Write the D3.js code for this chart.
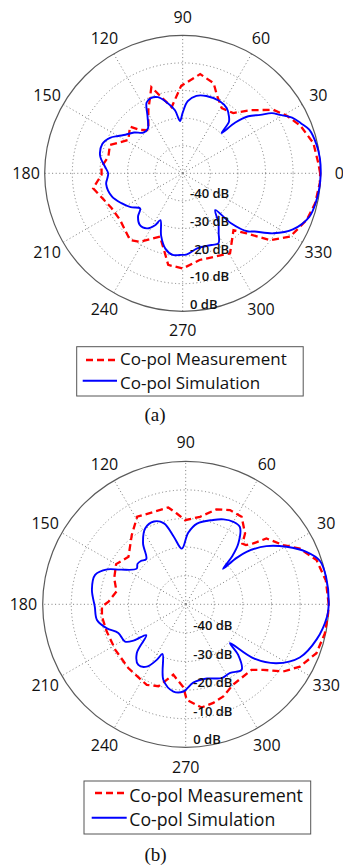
<!doctype html>
<html lang="en">
<head>
<meta charset="utf-8">
<title>Co-pol radiation patterns</title>
<script src="https://cdnjs.cloudflare.com/ajax/libs/d3/7.8.5/d3.min.js"></script>
<style>
  body { margin: 0; background: #fff; }
  svg { display: block; }
  .ang { font: 16px "Open Sans", sans-serif; fill: #111; }
  .ring { font: 600 13px "Open Sans", sans-serif; fill: #111; }
  .leg { font-family: "Open Sans", sans-serif; fill: #111; }
  .cap { font-family: "Liberation Serif", "Times New Roman", serif; fill: #111; }
</style>
</head>
<body>
<div id="chart"></div>
<script>
// tick labels
var angleTicks = [0, 30, 60, 90, 120, 150, 180, 210, 240, 270, 300, 330];
var ringValues = [-40, -30, -20, -10, 0];
var ringLabels = ["-40 dB", "-30 dB", "-20 dB", "-10 dB", "0 dB"];
var legendLabels = ["Co-pol Measurement", "Co-pol Simulation"];

// (a) simulation: angle (deg), gain (dB)
var simA_angle = [0, 6, 12, 19, 23, 27, 31, 34, 37, 41, 44, 46, 48, 51, 56, 63, 73, 80, 86, 90,
  93, 97, 103, 108, 113, 117, 122, 128, 134, 140, 146, 150, 154, 160, 168, 175, 180, 184, 188,
  198, 206, 213, 219.5, 224, 230, 237, 242, 244.5, 251, 257, 263, 268, 273, 281, 292, 297, 301,
  306, 311.5, 314, 318, 321, 326.5, 333, 341, 348, 354];
var simA_db = [0, 0, -0.4, -1.5, -3.5, -5.5, -8.9, -11, -14.8, -18.5, -23.5, -29.7, -25, -23.4,
  -21.5, -20.6, -20.7, -21.5, -23.8, -28, -31, -27, -23.5, -21, -20.4, -21.2, -26, -29.5, -29.5,
  -27, -25, -23, -20.7, -19, -19.4, -21.7, -23, -22.6, -22, -23, -25.3, -27.5, -30, -27.5, -25.7,
  -26.2, -28.7, -31.2, -26, -22, -20.2, -20.4, -20.6, -22.3, -22, -21.5, -24.7, -28, -32.2, -25,
  -18.6, -16.5, -10.6, -5.2, -1.5, -0.6, -0.2];

// (a) measurement
var measA_angle = [0, 4, 13, 22, 29, 35, 43, 50, 59, 66.5, 71, 80, 91, 99.5, 110, 118.5, 128.5,
  134.5, 138.5, 148.5, 158.7, 167.4, 175.3, 181, 189.5, 206, 216.7, 231.7, 238, 250.3, 257.5,
  261, 270, 281, 300.6, 311.8, 316.8, 322.6, 329.5, 339.4, 347.2, 356];
var measA_db = [-0.2, -0.7, -1.4, -4, -6.9, -9.9, -16.5, -21.5, -22.5, -19, -15.5, -13.5, -18.3,
  -25.7, -16.8, -23.9, -30, -28, -24.5, -26.9, -21.7, -22.4, -20.5, -20.6, -17.1, -21.3, -21.7,
  -19.2, -20.7, -25.6, -20.3, -16.4, -15.5, -18, -16.3, -22.4, -18.2, -10.1, -4.8, -2, -0.8, -0.2];

// (b) simulation
var simB_angle = [0, 11, 18, 23.5, 29.7, 35.8, 40.8, 42.5, 43.5, 46, 49, 55, 60, 66, 72, 82, 88,
  94, 100, 105, 111, 118, 125, 131, 136, 140, 144, 152, 156, 162, 171, 181.5, 190, 197, 203,
  211.6, 215, 218, 225, 232, 238, 242.5, 245, 253.6, 262, 268.5, 275.5, 286, 296, 303, 310.5,
  316, 318.7, 321.4, 327, 335, 345, 355];
var simB_db = [0, 0, -0.7, -4, -9.4, -15.2, -21.9, -26.5, -32, -26.5, -22, -17, -16.7, -17.5, -19,
  -21.5, -25, -30.5, -26, -20.7, -19, -19.9, -24, -29, -28.2, -28, -28.8, -24.2, -20, -16.7,
  -16.8, -18.2, -18.5, -21.2, -24.4, -25.1, -28, -32.5, -25.8, -23.1, -24.3, -28.1, -30.8, -22.4,
  -19.2, -19.5, -22.5, -23, -21.3, -21.4, -19.9, -24.5, -29.4, -19.8, -12.2, -6, -2.6, -0.4];

// (b) measurement
var measB_angle = [0, 9.7, 18.7, 26, 31.3, 39.2, 42, 44.5, 47, 50, 57.4, 64.8, 72, 80.7, 90.5,
  95.6, 100.2, 109.5, 119, 127.9, 140.3, 150, 160, 169.5, 178, 181.6, 188.4, 199, 212.9, 228,
  244.2, 251.6, 260, 268.4, 270.6, 278.7, 285.6, 292.2, 300.6, 315.1, 319.8, 325.4, 331.4,
  339.5, 348.2, 356.4];
var measB_db = [0, -0.3, -1.7, -5.6, -10.1, -13.6, -18.2, -20.5, -21, -17.7, -13.7, -13.6, -15.1,
  -19, -20.6, -18.1, -15.6, -15.8, -15, -19.3, -24, -21.9, -23.4, -25.4, -23, -20.7, -20.4, -20.8,
  -20.7, -20, -18.7, -19.8, -25, -21, -16.6, -13.5, -14.2, -15.2, -17.4, -17.5, -14.5, -8.6, -4.5,
  -1.2, -0.3, -0.1];

var W = 343, H = 868;
var svg = d3.select("#chart").append("svg")
    .attr("width", W)
    .attr("height", H);

function toRad(deg) { return (90 - deg) * Math.PI / 180; }

function drawPolar(p) {
    var g = svg.append("g")
        .attr("transform", "translate(" + p.cx + "," + p.cy + ")");

    var r = d3.scaleLinear().domain([-50, 0]).range([0, p.R]);

    // dotted rings
    g.selectAll("circle.grid")
        .data(ringValues.slice(0, -1))
        .enter().append("circle")
            .attr("r", d => r(d))
            .attr("fill", "none")
            .attr("stroke", "#7a7a7a")
            .attr("stroke-width", 1)
            .attr("stroke-dasharray", "1,2.6");

    // spokes
    g.selectAll("line.spoke")
        .data(angleTicks)
        .enter().append("line")
            .attr("x1", 0).attr("y1", 0)
            .attr("x2", d => p.R * Math.cos(d * Math.PI / 180))
            .attr("y2", d => -p.R * Math.sin(d * Math.PI / 180))
            .attr("stroke", "#7a7a7a")
            .attr("stroke-width", 1)
            .attr("stroke-dasharray", "1,2.6");

    // outer circle (0 dB)
    g.append("circle")
        .attr("r", r(0))
        .attr("fill", "none")
        .attr("stroke", "#5a5a5a")
        .attr("stroke-width", 1.2);

    // angle labels
    g.selectAll("text.ang")
        .data(angleTicks)
        .enter().append("text")
            .attr("class", "ang")
            .attr("x", d => p.R * 1.135 * Math.cos(d * Math.PI / 180))
            .attr("y", d => -p.R * 1.135 * Math.sin(d * Math.PI / 180))
            .attr("text-anchor", "middle")
            .attr("dominant-baseline", "central")
            .text(d => d);

    var sim = p.simAngle.map((a, i) => [a, p.simDb[i]]);
    var meas = p.measAngle.map((a, i) => [a, p.measDb[i]]);

    var simLine = d3.lineRadial()
        .angle(d => toRad(d[0]))
        .radius(d => r(d[1]))
        .curve(d3.curveCatmullRomClosed.alpha(0.5));

    var measLine = d3.lineRadial()
        .angle(d => toRad(d[0]))
        .radius(d => r(d[1]))
        .curve(d3.curveLinearClosed);

    g.append("path")
        .attr("d", measLine(meas))
        .attr("fill", "none")
        .attr("stroke", "#ff0000")
        .attr("stroke-width", 2.3)
        .attr("stroke-dasharray", "7,4");

    g.append("path")
        .attr("d", simLine(sim))
        .attr("fill", "none")
        .attr("stroke", "#0000ff")
        .attr("stroke-width", 1.9);

    // ring labels
    g.selectAll("text.ring")
        .data(ringValues)
        .enter().append("text")
            .attr("class", "ring")
            .attr("x", p.R * 0.053)
            .attr("y", d => r(d) - p.R * 0.055)
            .attr("dominant-baseline", "central")
            .text((d, i) => ringLabels[i]);

    // legend
    var L = p.legend;
    var lg = svg.append("g");
    lg.append("rect")
        .attr("x", L.x).attr("y", L.y)
        .attr("width", L.w).attr("height", L.h)
        .attr("fill", "#fff")
        .attr("stroke", "#555")
        .attr("stroke-width", 1);
    lg.append("line")
        .attr("x1", L.dash[0]).attr("x2", L.dash[1])
        .attr("y1", L.dash[2]).attr("y2", L.dash[2])
        .attr("stroke", "#ff0000").attr("stroke-width", 2.3)
        .attr("stroke-dasharray", "7,4");
    lg.append("line")
        .attr("x1", L.solid[0]).attr("x2", L.solid[1])
        .attr("y1", L.solid[2]).attr("y2", L.solid[2])
        .attr("stroke", "#0000ff").attr("stroke-width", 1.9);
    lg.selectAll("text.leg")
        .data(legendLabels)
        .enter().append("text")
            .attr("class", "leg")
            .attr("x", L.tx)
            .attr("y", (d, i) => L.ty[i])
            .style("font-size", L.fs + "px")
            .text(d => d);

    svg.append("text")
        .attr("class", "cap")
        .attr("x", p.cap[0]).attr("y", p.cap[1])
        .attr("text-anchor", "middle")
        .style("font-size", "19px")
        .text(p.capText);
}

drawPolar({
    cx: 182.7, cy: 173.3, R: 138,
    simAngle: simA_angle, simDb: simA_db,
    measAngle: measA_angle, measDb: measA_db,
    legend: { x: 76.7, y: 346.7, w: 226.5, h: 49.3, dash: [86, 117, 360], solid: [82.7, 117, 380.7],
              tx: 120, ty: [365, 389.3], fs: 17 },
    cap: [155, 420.5], capText: "(a)"
});

drawPolar({
    cx: 185.7, cy: 604.3, R: 143,
    simAngle: simB_angle, simDb: simB_db,
    measAngle: measB_angle, measDb: measB_db,
    legend: { x: 84, y: 781, w: 226.7, h: 53, dash: [95, 126.7, 793], solid: [91.7, 126.7, 817.7],
              tx: 129.3, ty: [801.7, 826], fs: 17.7 },
    cap: [155.5, 860.6], capText: "(b)"
});
</script>
</body>
</html>
